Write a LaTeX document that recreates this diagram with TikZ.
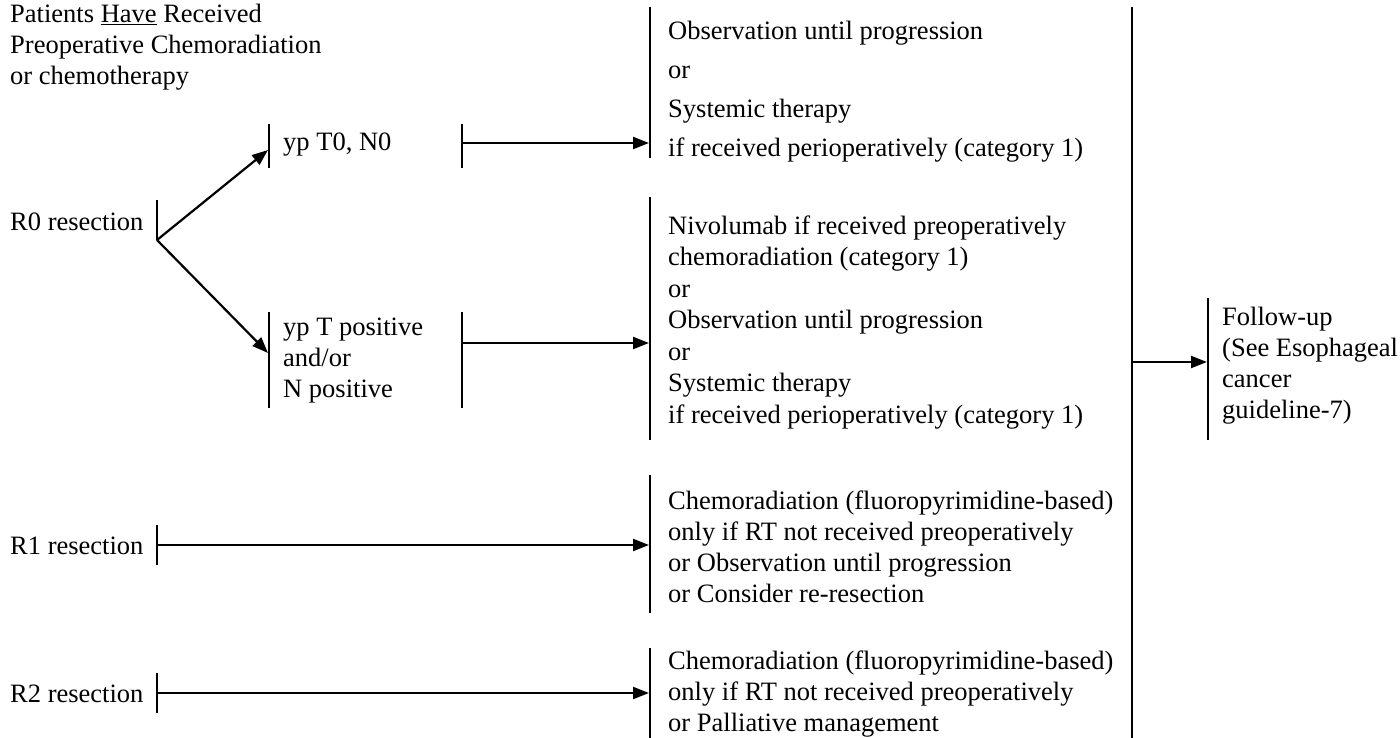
\documentclass[tikz,border=0pt]{standalone}
\usepackage{fontspec}
\setmainfont{Liberation Serif}
\usetikzlibrary{arrows.meta}
\begin{document}
\begin{tikzpicture}[x=1pt,y=-1pt,
  txt/.style={anchor=base west, inner sep=0pt, align=left, font=\fontsize{26.5}{31}\selectfont},
  bar/.style={line width=2.2pt},
  conn/.style={line width=2.2pt, -{Triangle[length=16pt,width=12pt]}},
]
\useasboundingbox (0,0) rectangle (1400,738);

% text blocks (anchored at the baseline of their last line)
\node[txt] (head) at (10,85) {Patients \underline{Have} Received\\Preoperative Chemoradiation\\or chemotherapy};
\node[txt] (r0) at (10,231) {R0 resection};
\node[txt] (ypn0) at (283,151) {yp T0, N0};
\node[txt] (yppos) at (283,397) {yp T positive\\and/or\\N positive};
\node[txt] (obs) at (668,157) {Observation until progression\\[8pt]or\\[8pt]Systemic therapy\\[8pt]if received perioperatively (category 1)};
\node[txt] (nivo) at (668,423) {Nivolumab if received preoperatively\\[0.5pt]chemoradiation (category 1)\\[0.5pt]or\\[0.5pt]Observation until progression\\[0.5pt]or\\[0.5pt]Systemic therapy\\[0.5pt]if received perioperatively (category 1)};
\node[txt] (r1) at (10,554) {R1 resection};
\node[txt] (r1opt) at (668,602) {Chemoradiation (fluoropyrimidine-based)\\only if RT not received preoperatively\\or Observation until progression\\or Consider re-resection};
\node[txt] (r2) at (10,702) {R2 resection};
\node[txt] (r2opt) at (668,731) {Chemoradiation (fluoropyrimidine-based)\\only if RT not received preoperatively\\or Palliative management};
\node[txt] (fu) at (1222,418) {Follow-up\\(See Esophageal\\cancer\\guideline-7)};

% bars
\draw[bar] (157,200) -- (157,240);
\draw[bar] (269,124) -- (269,168);
\draw[bar] (462,124) -- (462,168);
\draw[bar] (269,312) -- (269,408);
\draw[bar] (462,312) -- (462,408);
\draw[bar] (650,7) -- (650,158);
\draw[bar] (650,197) -- (650,440);
\draw[bar] (650,475) -- (650,613);
\draw[bar] (650,648) -- (650,740);
\draw[bar] (157,525) -- (157,565);
\draw[bar] (157,673) -- (157,713);
\draw[bar] (1132,7) -- (1132,740);
\draw[bar] (1208,298) -- (1208,440);

% anchor points
\coordinate (r0apex) at (157,240);
\coordinate (ypn0in) at (268,150);
\coordinate (ypposin) at (268,353);
\coordinate (ypn0out) at (462,143);
\coordinate (obsin) at (649,143);
\coordinate (ypposout) at (462,343);
\coordinate (nivoin) at (649,343);
\coordinate (r1out) at (157,545);
\coordinate (r1in) at (649,545);
\coordinate (r2out) at (157,693);
\coordinate (r2in) at (649,693);
\coordinate (allout) at (1132,362);
\coordinate (fuin) at (1207,362);

% connectors
\draw[conn] (r0apex) -- (ypn0in);
\draw[conn] (r0apex) -- (ypposin);
\draw[conn] (ypn0out) -- (obsin);
\draw[conn] (ypposout) -- (nivoin);
\draw[conn] (r1out) -- (r1in);
\draw[conn] (r2out) -- (r2in);
\draw[conn] (allout) -- (fuin);
\end{tikzpicture}
\end{document}
